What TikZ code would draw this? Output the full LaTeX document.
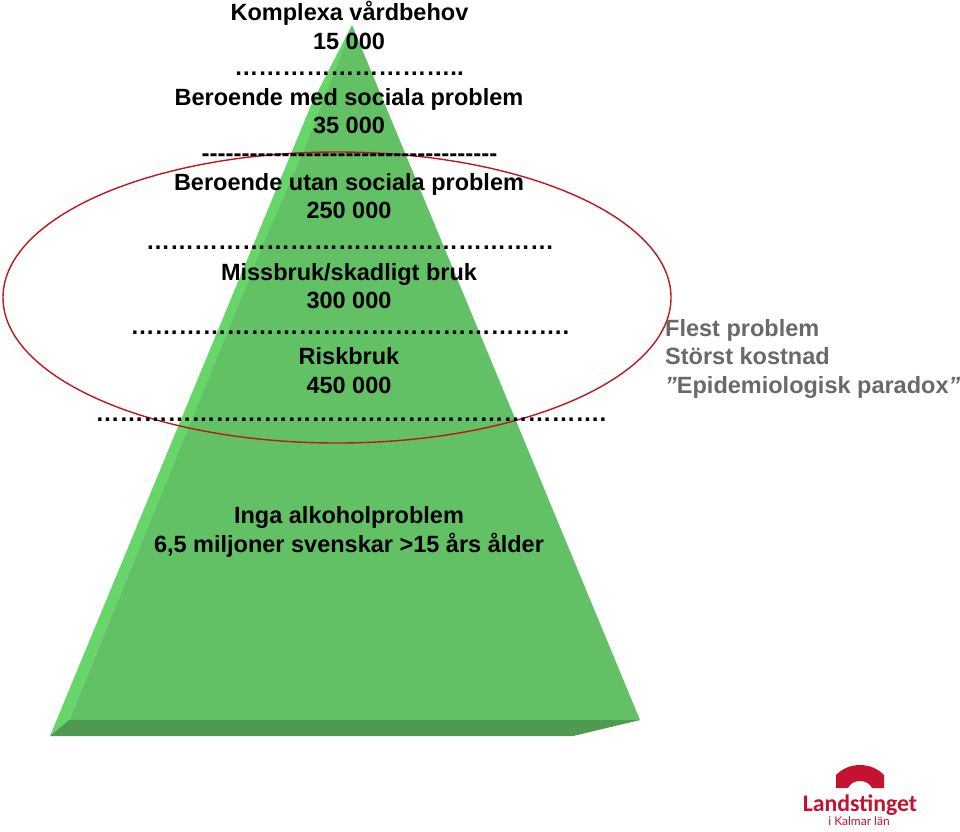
\documentclass[tikz,border=0pt]{standalone}
\usepackage{fontspec}
\newfontfamily\lab{Liberation Sans}[BoldFont={Liberation Sans Bold},BoldItalicFont={Liberation Sans Bold Italic}]
\newfontfamily\logof{Lato}
\newfontfamily\logob{Carlito}[BoldFont={Carlito Bold}]
\definecolor{front}{HTML}{62C164}
\definecolor{leftf}{HTML}{66D66A}
\definecolor{botf}{HTML}{4F9A50}
\definecolor{ring}{HTML}{C0161E}
\definecolor{side}{HTML}{696969}
\definecolor{logored}{HTML}{C41230}
\newcommand{\rp}[2]{\foreach \i in {1,...,#1}{#2}}
\tikzset{
  line/.style={anchor=base,inner sep=0pt,font=\lab\bfseries\fontsize{23.5}{24}\selectfont,text=black},
  dotline/.style={anchor=base,inner sep=0pt,font=\lab\bfseries\fontsize{24}{24}\selectfont,text=black},
  sideline/.style={anchor=base west,inner sep=0pt,font=\lab\bfseries\fontsize{23.5}{24}\selectfont,text=side},
}
\begin{document}
\begin{tikzpicture}[x=1pt,y=-1pt]
\useasboundingbox (0,0) rectangle (960,831);
\fill[front] (352,25) -- (640,720) -- (69,720.5) -- cycle;
\fill[leftf] (352,25) -- (345,45) -- (302,155) -- (265,240) -- (69,720.5) -- (50,736) -- (312,103) -- cycle;
\fill[botf] (69,720) -- (640,720) -- (573,736) -- (50,736) -- cycle;
\draw[ring,line width=1.4pt] (337,297.5) ellipse [x radius=334,y radius=145.5];
\node[line] (t1) at (349.5,20) {Komplexa vårdbehov};
\node[line] (t2) at (349,49) {15 000};
\node[dotline] (d1) at (349,75) {\rp{9}{…}..};
\node[line] (t3) at (349,105) {Beroende med sociala problem};
\node[line] (t4) at (349,133) {35 000};
\node[dotline] (d2) at (349.5,161) {\rp{37}{-{}}};
\node[line] (t5) at (349,190) {Beroende utan sociala problem};
\node[line] (t6) at (349,218) {250 000};
\node[dotline] (d3) at (350,249) {\rp{17}{…}};
\node[line] (t7) at (349,280) {Missbruk/skadligt bruk};
\node[line] (t8) at (349,308) {300 000};
\node[dotline] (d4) at (350,334) {\rp{18}{…}.};
\node[line] (t9) at (349,364) {Riskbruk};
\node[line] (t10) at (349,393) {450 000};
\node[dotline] (d5) at (351,421) {\rp{21}{…}.};
\node[line] (t11) at (349,523) {Inga alkoholproblem};
\node[line] (t12) at (349,552) {6,5 miljoner svenskar >15 års ålder};
\node[sideline] (s1) at (665,336) {Flest problem};
\node[sideline] (s2) at (665,364) {Störst kostnad};
\node[sideline] (s3) at (665,393) {{\itshape”}Epidemiologisk paradox{\itshape”}};
\fill[logored] (836,788) -- (836,775) .. controls (842,769) and (850,765) .. (860,765) .. controls (870,765) and (878,769) .. (884,775) -- (884,788) -- (872,788) .. controls (870,784) and (866,781) .. (860,781) .. controls (854,781) and (850,784) .. (848,788) -- cycle;
\node[anchor=base,inner sep=0pt,text=logored,font=\logob\bfseries\fontsize{23.8}{24}\selectfont] (l1) at (860,811) {Landstinget};
\node[anchor=base,inner sep=0pt,text=logored,font=\logof\fontsize{12}{12}\selectfont] (l2) at (859,825.5) {i Kalmar län};
\end{tikzpicture}
\end{document}
